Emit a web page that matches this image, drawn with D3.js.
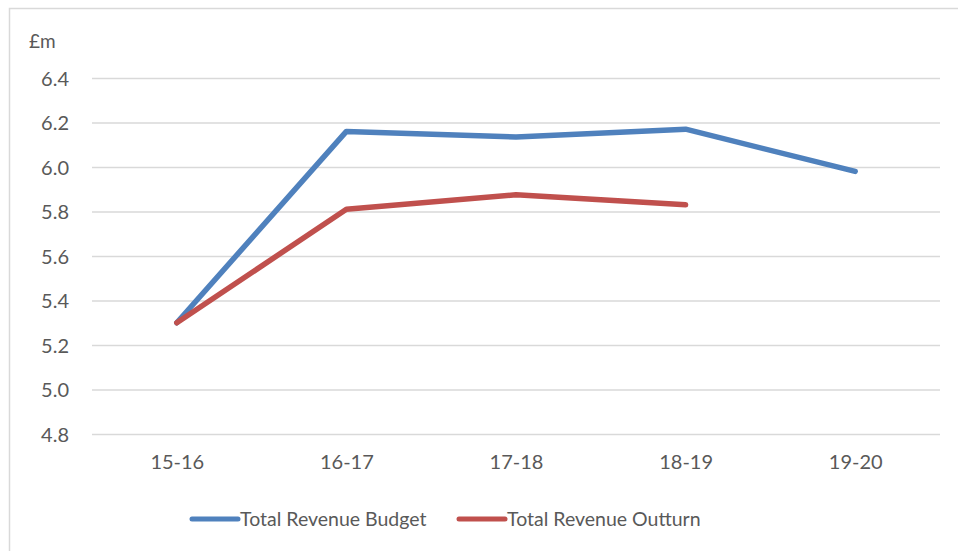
<!DOCTYPE html>
<html>
<head>
<meta charset="utf-8">
<script src="https://cdn.jsdelivr.net/npm/d3@7"></script>
<style>
  html, body { margin: 0; padding: 0; background: #fff; }
  svg text { font-family: Lato, "Open Sans", sans-serif; fill: #595959; }
</style>
</head>
<body>
<div id="chart-area"></div>
<script>
const years = ["15-16", "16-17", "17-18", "18-19", "19-20"];
const budget = [5.30, 6.16, 6.135, 6.17, 5.98];
const outturn = [5.30, 5.81, 5.875, 5.83, null];
const yTicks = [4.8, 5.0, 5.2, 5.4, 5.6, 5.8, 6.0, 6.2, 6.4];
const seriesNames = ["Total Revenue Budget", "Total Revenue Outturn"];
const seriesColors = ["#4F81BD", "#C0504D"];

const W = 958, H = 551;
const plot = {left: 92, right: 940, top: 78, bottom: 434};

const svg = d3.select("#chart-area")
    .append("svg")
    .attr("width", W)
    .attr("height", H);

// outer chart border (top and left visible)
svg.append("path")
    .attr("d", `M9.5,${H} V8.5 H${W}`)
    .attr("fill", "none")
    .attr("stroke", "#d9d9d9")
    .attr("stroke-width", 1.5);

const xScale = d3.scalePoint()
    .domain(years)
    .range([plot.left, plot.right])
    .padding(0.5);

const yScale = d3.scaleLinear()
    .domain([4.8, 6.4])
    .range([plot.bottom, plot.top]);

// gridlines + y labels
const yAxis = d3.axisLeft(yScale)
    .tickValues(yTicks)
    .tickFormat(d3.format(".1f"))
    .tickSize(-(plot.right - plot.left))
    .tickPadding(23);

const yG = svg.append("g")
    .attr("transform", `translate(${plot.left},0)`)
    .call(yAxis);
yG.select(".domain").remove();
yG.selectAll("line").attr("stroke", "#d9d9d9").attr("stroke-width", 1.5);
yG.selectAll("text")
    .style("font-size", "20px")
    .attr("dy", "0.35em");

// x labels
const xAxis = d3.axisBottom(xScale).tickSize(0).tickPadding(21);
const xG = svg.append("g")
    .attr("transform", `translate(0,${plot.bottom})`)
    .call(xAxis);
xG.select(".domain").remove();
xG.selectAll("text").style("font-size", "20px");

svg.append("text")
    .attr("x", 29)
    .attr("y", 48)
    .style("font-size", "19px")
    .text("£m");

const line = d3.line()
    .defined(d => d.v != null)
    .x(d => xScale(d.year))
    .y(d => yScale(d.v));

[budget, outturn].forEach((vals, i) => {
    const pts = years.map((y, j) => ({year: y, v: vals[j]}));
    svg.append("path")
        .datum(pts)
        .attr("fill", "none")
        .attr("stroke", seriesColors[i])
        .attr("stroke-width", 5.5)
        .attr("stroke-linecap", "round")
        .attr("stroke-linejoin", "round")
        .attr("d", line);
});

// legend
const legendX = [192, 459];
const legend = svg.selectAll(".legend")
    .data(seriesNames)
    .enter()
    .append("g")
    .attr("class", "legend")
    .attr("transform", (d, i) => `translate(${legendX[i]},519)`);

legend.append("line")
    .attr("x1", 0)
    .attr("x2", 46)
    .attr("stroke", (d, i) => seriesColors[i])
    .attr("stroke-width", 5)
    .attr("stroke-linecap", "round");

legend.append("text")
    .attr("x", 48)
    .attr("dy", "0.35em")
    .style("font-size", "19.5px")
    .text(d => d);
</script>
</body>
</html>
